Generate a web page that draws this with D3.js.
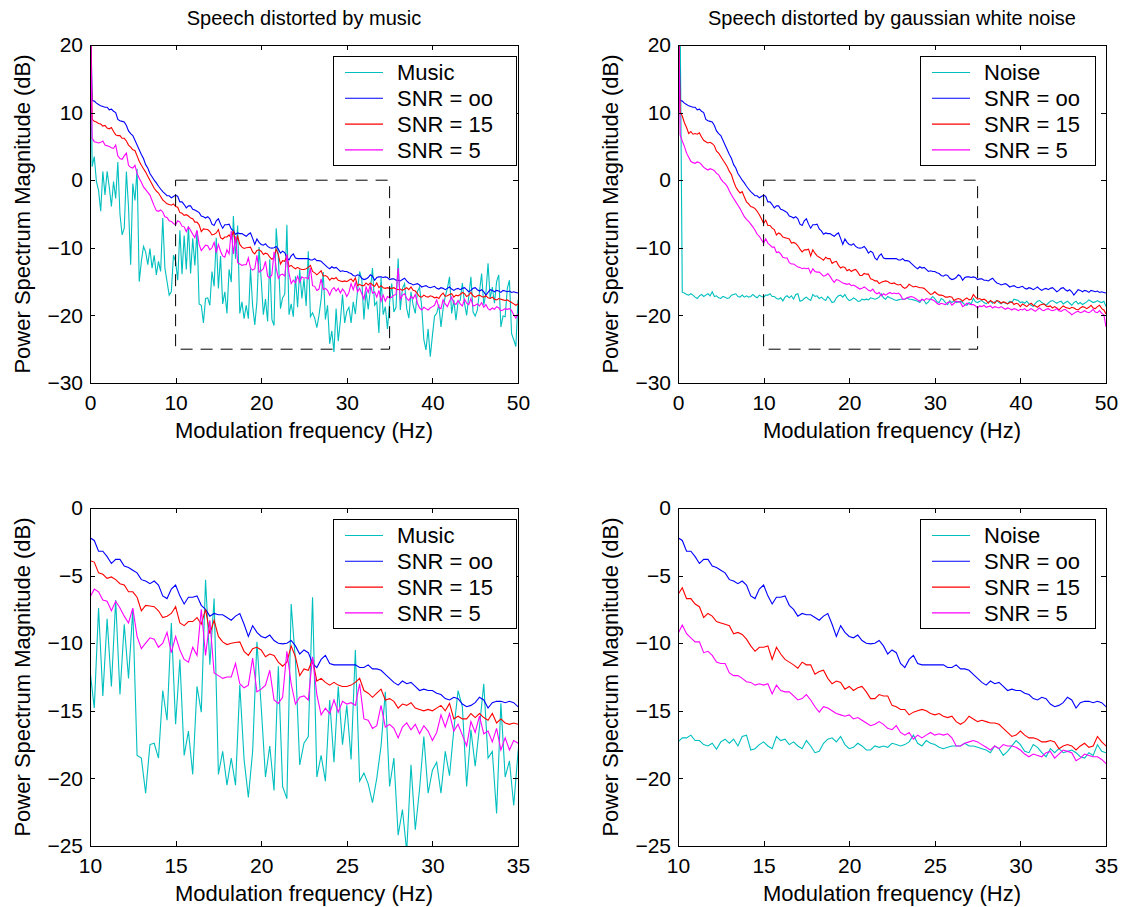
<!DOCTYPE html>
<html>
<head>
<meta charset="utf-8">
<script src="https://cdn.jsdelivr.net/npm/d3@7"></script>
<style>
    body { margin: 0; background: #fff; }
    svg { display: block; font-family: "Liberation Sans", Arial, Helvetica, sans-serif; }
    .axis path, .axis line { stroke: #000; stroke-width: 1; shape-rendering: crispEdges; }
    .axis text { font-size: 21px; fill: #000; }
</style>
</head>
<body>
<svg id="chart" width="1125" height="907"></svg>
<script>
// modulation spectra, one value every 0.25 Hz from 0 to 50 Hz (dB)
const FREQ_STEP = 0.25;

const cleanSpeech = [
    30, 11.8, 11.7, 11.4, 11.2, 11.0, 10.9, 10.8, 10.8, 10.4, 10.5, 10.2, 10.0, 9.0, 8.8, 8.7, 8.6, 8.1, 7.3, 6.9, 6.6,
    5.9, 5.2, 4.5, 3.8, 3.2, 2.3, 1.8, 1.0, 0.5, 0.0, -0.4, -0.9, -1.3, -1.7, -2.0, -2.3, -2.3, -2.6, -2.4, -2.2,
    -2.4, -3.2, -3.2, -3.6, -4.1, -3.8, -3.8, -4.3, -4.4, -4.6, -4.8, -5.3, -5.4, -5.6, -5.4, -5.7, -6.5, -6.7, -6.0, -5.7,
    -6.5, -7.1, -6.6, -6.6, -6.5, -7.2, -7.5, -8.0, -7.8, -7.9, -7.9, -8.1, -8.3, -8.0, -7.8, -8.6, -9.5, -8.7, -9.2, -9.5,
    -9.6, -9.4, -9.8, -10.0, -10.05, -10.0, -9.8, -10.2, -10.8, -10.5,
    -10.7, -11.5, -11.8, -11.2, -10.9, -11.5, -11.6, -11.6, -11.6, -11.6, -11.6, -11.6, -11.8, -11.8, -11.6, -11.9, -11.9,
    -12.0, -12.3, -12.6, -12.9, -13.1, -12.8, -13.0, -12.9, -13.2, -13.5, -13.4, -13.5, -13.5, -13.7, -13.8, -14.1, -14.2,
    -14.0, -14.1, -14.5, -14.7, -14.6, -14.4, -14.0, -14.2, -14.8, -14.4, -14.3, -14.3, -14.4, -14.3, -14.4, -14.7,
    -14.6, -14.6, -14.8, -14.8, -14.9, -14.7, -14.5, -14.9, -15.2, -15.3, -15.5, -15.4, -15.3, -15.5, -15.8, -15.7,
    -15.6, -15.8, -15.9, -15.8, -15.7, -16.0, -16.1, -15.9, -16.0, -16.2, -16.0, -15.8, -16.1, -16.3, -16.1, -16.0,
    -16.2, -16.0, -15.9, -16.2, -16.5, -16.3, -16.0, -15.9, -16.2, -16.4, -16.2, -16.5, -17.0, -16.6, -16.2, -16.3,
    -16.5, -16.3, -16.4, -16.6, -16.3, -16.4, -16.5, -16.4, -16.6, -16.5, -16.6, -16.7
];

const music = [
    30, 2.0, 3.5, -0.2, -1.5, -4.6, 1.3, -2.2, 1.3, -1.0, -3.9, -0.2, -2.7, 2.7, -5.0, -8.1, -7.1, 1.3, -4.0, -12.5, -0.5,
    -3.0, 1.7, -15.0, -12.0, -9.8, -10.6, -12.5, -10.1, -13.0, -11.1, -14.0, -12.0, -13.5, -5.6, -13.0, -15.0, -17.0, -16.5, -11.1, -12.0,
    -14.8, -7.4, -13.9, -8.2, -13.2, -6.8, -13.8, -8.6, -12.6, -7.5, -18.3, -18.5, -21.1, -17.5, -17.4, -18.5, -13.5,
    -15.7, -8.5, -16.0, -11.2, -18.3, -16.5, -19.7, -13.2, -15.1, -5.3, -11.6, -6.7, -19.7, -18.0, -20.5, -18.5, -20.5,
    -13.1, -18.6, -21.4, -18.0, -9.9, -14.7, -19.9, -17.6, -20.9, -11.7, -20.6, -21.5, -7.1, -11.3, -19.0, -17.4,
    -16.9, -6.6, -19.9, -18.3, -20.2, -14.2, -18.8, -13.2, -17.5, -14.6, -18.6, -10.5, -20.2, -19.6, -20.4, -21.8, -20.0,
    -17.6, -13.6, -20.6, -18.5, -24.2, -22.3, -25.4, -19.0, -23.8, -20.8, -16.9, -21.1, -19.4, -18.8, -21.1, -18.0,
    -19.8, -16.4, -13.5, -14.7, -20.6, -16.4, -19.1, -16.2, -13.0, -18.5, -18.0, -22.6, -14.45, -19.9, -18.7, -22.0, -18.1,
    -15.3, -19.5, -18.8, -11.6, -19.2, -16.0, -15.3, -19.0, -20.4, -16.5, -18.5, -19.7, -16.5, -15.8, -18.7, -23.6,
    -25.1, -22.0, -26.1, -23.0, -20.1, -19.7, -18.4, -21.7, -19.0, -17.2, -16.0, -14.3, -19.7, -17.7, -20.7, -18.0,
    -17.8, -15.2, -18.2, -20.0, -17.2, -14.3, -19.5, -20.1, -19.2, -16.5, -13.8, -18.5, -16.7, -12.3, -17.5, -15.8,
    -18.2, -15.0, -14.0, -21.7, -20.1, -20.2, -16.0, -14.8, -22.7, -23.6, -24.6, -17.7
];

const musicSnr15 = [
    30, 9.0, 8.7, 8.6, 8.4, 8.3, 8.0, 8.1, 7.7, 7.6, 7.8, 7.2, 6.7, 6.6, 6.6, 6.2, 6.2, 5.8, 5.2, 4.9, 4.5,
    4.4, 3.6, 2.8, 2.2, 1.7, 1.2, 0.6, 0.0, -0.6, -1.2, -1.6, -1.9, -2.4, -2.9, -3.2, -3.5, -3.6, -3.7, -3.5, -3.9,
    -4.0, -4.8, -4.9, -5.2, -5.1, -5.3, -5.6, -5.7, -6.2, -6.2, -6.6, -7.6, -7.2, -7.25, -7.3, -7.6, -8.1, -8.0, -7.8,
    -7.3, -8.5, -8.7, -8.4, -8.4, -8.1, -8.6, -7.5, -9.3, -8.3, -9.5, -9.9, -10.1, -10.0, -9.95, -9.9, -10.6, -10.9,
    -10.4, -10.3, -10.5, -11.0, -10.8, -10.9, -11.4, -11.7, -11.4, -10.2, -11.0, -12.4, -11.9,
    -12.0, -11.2, -12.8, -12.6, -12.9, -13.1, -12.9, -13.1, -13.2, -13.2, -13.1, -12.9, -12.6, -13.5, -13.7, -14.0,
    -13.7, -13.4, -14.2, -14.1, -14.3, -14.8, -14.5, -14.6, -14.4, -14.8, -14.9, -15.0, -14.9, -15.0, -14.8, -14.6,
    -15.0, -14.45, -15.6, -15.4, -15.6, -15.6, -15.2, -15.5, -15.2, -15.5, -15.7, -15.2, -15.9, -15.6, -15.9, -16.0, -15.9, -16.0,
    -16.0, -15.9, -16.1, -16.2, -16.1, -16.3, -16.1, -15.9, -16.2, -15.8, -16.3, -16.4, -16.8, -17.2, -17.3, -17.0,
    -17.2, -17.3, -17.1, -17.2, -17.4, -17.3, -17.5, -17.0, -16.7, -17.2, -17.1, -16.9, -16.8, -17.3, -17.0, -17.1,
    -16.9, -16.6, -16.8, -17.2, -17.0, -16.6, -17.1, -17.3, -17.1, -17.0, -17.2, -17.3, -17.1, -17.4, -17.5, -17.3,
    -17.6, -17.7, -17.5, -17.6, -17.7, -17.8, -17.7, -17.9, -18.1, -18.3, -18.5, -18.3
];

const musicSnr5 = [
    30, 6.2, 5.7, 5.6, 5.5, 5.6, 5.8, 5.2, 5.1, 5.0, 4.8, 4.7, 5.2, 3.6, 3.2, 3.1, 3.6, 4.0, 2.2, 1.9, 1.8,
    2.2, 1.0, 0.3, -0.3, -1.0, -1.4, -1.8, -2.2, -3.0, -3.8, -4.5, -4.6, -4.4, -4.7, -5.4, -5.5, -6.0, -6.1, -6.4, -6.6,
    -6.0, -6.2, -6.8, -6.9, -7.6, -6.9, -7.4, -8.0, -8.5, -7.4, -9.5, -10.4, -10.0, -9.6, -9.7, -10.3, -10.0, -9.2,
    -10.7, -9.5, -10.5, -11.2, -11.4, -10.3, -10.9, -7.5, -10.9, -8.3, -12.2, -12.4, -12.6, -12.5, -12.5, -11.5, -13.0,
    -13.3, -13.1, -11.1, -13.6, -13.4, -13.1, -12.0, -14.2, -14.45, -14.0, -10.6, -13.0, -14.5, -14.0, -13.9,
    -14.2, -11.0, -13.8, -15.3, -14.8, -15.2, -14.2, -15.1, -14.3, -14.5, -14.4, -14.6, -13.0, -15.6, -15.7, -16.3,
    -16.1, -14.6, -16.2, -16.0, -16.3, -17.0, -16.2, -15.9, -16.4, -16.0, -16.7, -16.1, -16.5, -17.2, -16.6, -15.3,
    -16.2, -15.2, -16.5, -16.0, -16.8, -17.6, -15.8, -16.6, -15.4, -16.7, -16.5, -17.3, -16.3, -17.9, -17.0, -17.9, -17.2, -17.4,
    -17.3, -17.0, -16.9, -13.0, -17.6, -17.0, -16.8, -17.5, -17.8, -17.2, -17.5, -16.9, -18.2, -18.9, -19.2, -18.8,
    -19.0, -19.2, -18.9, -18.7, -18.5, -17.7, -18.8, -19.0, -17.7, -18.3, -18.7, -17.9, -17.3, -18.2, -18.4, -17.8,
    -18.3, -18.6, -17.6, -18.2, -18.4, -17.5, -18.6, -18.5, -18.3, -18.6, -18.1, -18.8, -18.4, -19.0, -19.2, -18.9,
    -19.1, -18.7, -18.9, -19.3, -19.2, -19.0, -19.1, -19.0, -19.3, -19.9, -20.4, -19.8
];

const noise = [
    30, 24, -16.6, -16.7, -16.9, -17.0, -16.8, -17.0, -17.3, -17.5, -17.1, -16.9, -17.2, -17.0, -16.8, -17.1, -16.5,
    -17.2, -17.1, -17.4, -17.5, -17.2, -17.3, -17.5, -17.4, -17.0, -16.9, -16.8, -17.2, -17.3, -17.0, -17.3, -17.1,
    -17.3, -17.2, -16.9, -17.2, -17.4, -17.0, -17.2, -17.3,
    -17.0, -17.0, -16.8, -17.2, -17.2, -17.5, -17.6, -17.4, -17.85, -17.3, -17.1, -17.4, -17.1, -17.6, -16.9, -16.8,
    -17.9, -17.8, -17.5, -17.3, -17.6, -17.8, -16.9, -17.2, -17.1, -17.5, -17.3, -17.6, -17.8, -17.2, -17.6, -18.1,
    -18.0, -17.4, -17.1, -17.0, -17.3, -16.9, -17.5, -17.8, -17.7, -17.4, -17.6, -17.9, -17.9, -17.6, -17.7, -17.6, -17.7, -17.4,
    -17.5, -17.6, -17.5, -17.3, -16.8, -17.4, -17.6, -17.2, -17.4, -17.5, -17.7, -17.8, -17.7, -17.6, -17.6, -17.6,
    -17.4, -17.6, -17.6, -17.7, -17.8, -17.9, -18.1, -17.6, -17.8, -18.3, -18.0, -17.6, -17.2, -17.5, -18.0, -18.1,
    -17.5, -17.7, -18.1, -18.4, -17.8, -18.1, -17.8, -18.1, -18.0, -17.9, -18.1, -18.4, -18.5, -18.1, -18.3, -17.5, -18.0, -18.1,
    -17.9, -17.8, -18.1, -18.3, -18.0, -17.9, -18.2, -18.0, -17.8, -18.1, -18.3, -18.0, -18.2, -18.3, -17.9, -18.1,
    -17.6, -17.7, -17.8, -18.1, -18.0, -18.2, -17.9, -18.3, -18.5, -18.7, -18.2, -17.9, -17.8, -18.1, -18.3, -18.5,
    -18.2, -17.9, -17.8, -18.0, -18.2, -18.0, -17.9, -18.3, -18.1, -17.9, -18.2, -18.5, -18.1, -17.9, -18.3, -18.1,
    -18.4, -18.2, -18.0, -17.7, -17.9, -18.1, -18.0, -17.8, -18.0, -18.1, -17.9, -18.7
];

const noiseSnr15 = [
    30, 10.1, 9.5, 8.5, 7.8, 6.9, 7.2, 6.8, 6.9, 6.8, 7.0, 6.4, 5.9, 5.7, 5.5, 5.6, 5.4, 5.1, 4.3, 4.0, 3.5,
    3.0, 2.5, 2.0, 1.3, 0.8, -0.2, -1.0, -1.5, -1.9, -1.7, -2.5, -3.2, -3.5, -3.9, -4.0, -4.2, -4.6, -5.1, -5.7, -6.4,
    -5.9, -6.7, -6.7, -7.1, -7.3, -8.1, -7.8, -8.0, -8.4, -8.5, -8.6, -8.7, -9.3, -9.2, -9.35, -9.7, -10.2, -10.6,
    -10.3, -10.3, -10.2, -11.2, -10.3, -10.8, -11.2, -11.4, -11.6, -11.85, -11.4, -11.6, -11.6, -12.3, -12.1, -12.0,
    -12.6, -13.0, -12.8, -12.9, -13.4, -13.2, -13.5, -13.3, -13.2, -13.6, -14.1, -14.1, -13.8, -13.9, -13.9, -14.6,
    -14.7, -14.9, -14.9, -15.3, -15.1, -15.0, -14.9, -15.0, -15.2, -15.3, -15.2, -15.4, -15.5, -15.4, -15.8, -16.0,
    -15.8, -15.4, -15.6, -15.8, -15.7, -15.8, -15.9, -15.9, -16.0, -16.3, -16.6, -16.9, -16.8, -16.5, -16.8, -17.0,
    -17.0, -17.1, -17.3, -17.3, -17.2, -17.3, -17.8, -17.6, -17.5, -17.6, -17.9, -17.6, -17.4, -17.7, -17.6, -16.9, -17.3, -17.6,
    -17.5, -17.7, -17.6, -17.8, -18.2, -17.8, -18.0, -18.2, -17.8, -17.9, -18.2, -18.0, -18.1, -18.3, -18.1, -18.0,
    -18.4, -18.2, -18.3, -18.7, -18.3, -18.5, -18.7, -18.4, -18.2, -18.5, -18.6, -18.8, -18.5, -18.4, -18.3, -18.6,
    -18.7, -18.6, -18.9, -18.7, -18.9, -19.2, -18.9, -18.6, -18.8, -18.9, -19.0, -18.8, -18.9, -19.1, -19.2, -18.9,
    -18.7, -18.8, -19.0, -18.8, -18.5, -18.9, -19.0, -18.7, -18.5, -19.0, -19.2, -19.8
];

const noiseSnr5 = [
    30, 6.7, 5.8, 5.0, 4.0, 3.4, 2.8, 2.6, 2.5, 2.7, 2.6, 2.3, 1.9, 1.7, 1.5, 1.7, 1.6, 1.4, 1.0, 0.8, 0.2,
    -0.2, -0.5, -0.9, -1.6, -2.2, -2.7, -3.2, -3.7, -4.2, -4.8, -5.4, -5.8, -6.1, -6.5, -6.9, -7.4, -8.0, -8.3, -8.8, -9.3,
    -8.65, -9.3, -9.6, -9.9, -9.9, -10.7, -10.6, -10.9, -11.4, -11.5, -11.5, -12.2, -12.4, -12.4, -12.6, -12.85,
    -12.9, -13.1, -13.0, -13.1, -13.0, -13.75, -13.1, -13.5, -13.6, -13.6, -13.9, -14.2, -14.1, -13.8, -14.2, -14.7,
    -15.1, -14.7, -14.8, -15.0, -15.2, -15.3, -15.4, -15.3, -15.6, -15.5, -15.7, -15.9, -16.1, -16.0, -15.8, -16.0, -16.3, -16.4,
    -16.1, -16.6, -16.8, -16.6, -17.1, -16.8, -17.0, -16.8, -16.6, -16.8, -16.7, -16.8, -16.7, -17.0, -17.6, -17.6,
    -17.4, -17.3, -17.2, -17.3, -17.5, -17.7, -17.9, -17.6, -17.8, -17.5, -17.6, -17.6, -17.7, -17.9, -18.2, -18.4,
    -18.2, -18.3, -18.4, -18.1, -18.0, -18.5, -18.2, -17.9, -18.0, -18.1, -18.7, -18.5, -18.2, -18.3, -18.4, -18.4, -18.6, -18.9,
    -18.6, -18.7, -18.5, -18.8, -18.7, -18.6, -18.9, -18.7, -18.8, -18.9, -18.7, -18.9, -19.1, -18.9, -19.0, -19.2,
    -19.0, -19.1, -19.3, -19.1, -19.2, -19.0, -19.3, -19.2, -19.0, -19.2, -19.4, -19.1, -18.9, -19.2, -19.3, -19.1,
    -19.0, -19.2, -19.3, -19.2, -19.0, -19.3, -19.4, -19.2, -19.1, -19.4, -19.6, -19.9, -19.7, -19.5, -19.4, -19.6,
    -19.5, -19.3, -19.5, -19.6, -19.4, -19.1, -19.5, -19.6, -19.3, -19.7, -19.9, -21.7
];

const fullXTicks = [0, 10, 20, 30, 40, 50];
const fullYTicks = [-30, -20, -10, 0, 10, 20];
const zoomXTicks = [10, 15, 20, 25, 30, 35];
const zoomYTicks = [-25, -20, -15, -10, -5, 0];
const zoomRegion = { x: [10, 35], y: [-25, 0] };

const musicLabels = ['Music', 'SNR = oo', 'SNR = 15', 'SNR = 5'];
const noiseLabels = ['Noise', 'SNR = oo', 'SNR = 15', 'SNR = 5'];
const lineColors = ['#00bfbf', '#0000ff', '#ff0000', '#ff00ff'];

const PW = 428, PH = 338;

const panels = [
    { left: 90,  top: 45,  xDomain: [0, 50],  yDomain: [-30, 20], xTicks: fullXTicks, yTicks: fullYTicks,
      title: 'Speech distorted by music', series: [music, cleanSpeech, musicSnr15, musicSnr5],
      labels: musicLabels, legend: { x: 243, w: 183 }, zoomBox: true },
    { left: 678, top: 45,  xDomain: [0, 50],  yDomain: [-30, 20], xTicks: fullXTicks, yTicks: fullYTicks,
      title: 'Speech distorted by gaussian white noise', series: [noise, cleanSpeech, noiseSnr15, noiseSnr5],
      labels: noiseLabels, legend: { x: 242, w: 175 }, zoomBox: true },
    { left: 90,  top: 508, xDomain: [10, 35], yDomain: [-25, 0],  xTicks: zoomXTicks, yTicks: zoomYTicks,
      title: null, series: [music, cleanSpeech, musicSnr15, musicSnr5],
      labels: musicLabels, legend: { x: 243, w: 183 }, zoomBox: false },
    { left: 678, top: 508, xDomain: [10, 35], yDomain: [-25, 0],  xTicks: zoomXTicks, yTicks: zoomYTicks,
      title: null, series: [noise, cleanSpeech, noiseSnr15, noiseSnr5],
      labels: noiseLabels, legend: { x: 242, w: 175 }, zoomBox: false }
];

const svg = d3.select('#chart');

panels.forEach((p, pi) => {
    const g = svg.append('g').attr('transform', `translate(${p.left},${p.top})`);
    const x = d3.scaleLinear().domain(p.xDomain).range([0, PW]);
    const y = d3.scaleLinear().domain(p.yDomain).range([PH, 0]);

    g.append('clipPath').attr('id', 'clip' + pi)
        .append('rect').attr('width', PW).attr('height', PH);

    const line = d3.line()
        .x((d, i) => x(i * FREQ_STEP))
        .y(d => y(d));

    const plot = g.append('g').attr('clip-path', `url(#clip${pi})`);
    p.series.forEach((s, si) => {
        plot.append('path')
            .datum(s)
            .attr('fill', 'none')
            .attr('stroke', lineColors[si])
            .attr('stroke-width', 1.1)
            .attr('d', line);
    });

    // zoom window drawn below
    if (p.zoomBox) {
        g.append('rect')
            .attr('x', x(zoomRegion.x[0]))
            .attr('y', y(zoomRegion.y[1]))
            .attr('width', x(zoomRegion.x[1]) - x(zoomRegion.x[0]))
            .attr('height', y(zoomRegion.y[0]) - y(zoomRegion.y[1]))
            .attr('fill', 'none')
            .attr('stroke', '#000')
            .attr('stroke-width', 1)
            .attr('stroke-dasharray', '12,8');
    }

    // axes, ticks inside on every side (box on)
    g.append('g').attr('class', 'axis').attr('transform', `translate(0,${PH})`)
        .call(d3.axisBottom(x).tickValues(p.xTicks).tickSizeInner(-5).tickSizeOuter(0).tickPadding(12));
    g.append('g').attr('class', 'axis')
        .call(d3.axisLeft(y).tickValues(p.yTicks).tickSizeInner(-5).tickSizeOuter(0).tickPadding(7));
    g.append('g').attr('class', 'axis')
        .call(d3.axisTop(x).tickValues(p.xTicks).tickSizeInner(-5).tickSizeOuter(0).tickFormat(''));
    g.append('g').attr('class', 'axis').attr('transform', `translate(${PW},0)`)
        .call(d3.axisRight(y).tickValues(p.yTicks).tickSizeInner(-5).tickSizeOuter(0).tickFormat(''));

    // legend
    const lg = g.append('g').attr('transform', `translate(${p.legend.x},11)`);
    lg.append('rect')
        .attr('width', p.legend.w).attr('height', 109)
        .attr('fill', '#fff').attr('stroke', '#000').attr('stroke-width', 1)
        .attr('shape-rendering', 'crispEdges');
    p.labels.forEach((lab, i) => {
        const ly = 16.5 + i * 25.8;
        lg.append('line')
            .attr('x1', 12).attr('x2', 50).attr('y1', ly).attr('y2', ly)
            .attr('stroke', lineColors[i]).attr('stroke-width', 1.1);
        lg.append('text')
            .attr('x', 64).attr('y', ly).attr('dy', '0.36em')
            .attr('font-size', 22).text(lab);
    });

    // labels
    if (p.title) {
        g.append('text')
            .attr('x', PW / 2).attr('y', -20)
            .attr('text-anchor', 'middle').attr('font-size', 20)
            .text(p.title);
    }
    g.append('text')
        .attr('x', PW / 2).attr('y', PH + 55)
        .attr('text-anchor', 'middle').attr('font-size', 22)
        .text('Modulation frequency (Hz)');
    g.append('text')
        .attr('transform', `translate(-68,${PH / 2}) rotate(-90)`)
        .attr('text-anchor', 'middle').attr('dy', '0.36em').attr('font-size', 22)
        .text('Power Spectrum Magnitude (dB)');
});
</script>
</body>
</html>
